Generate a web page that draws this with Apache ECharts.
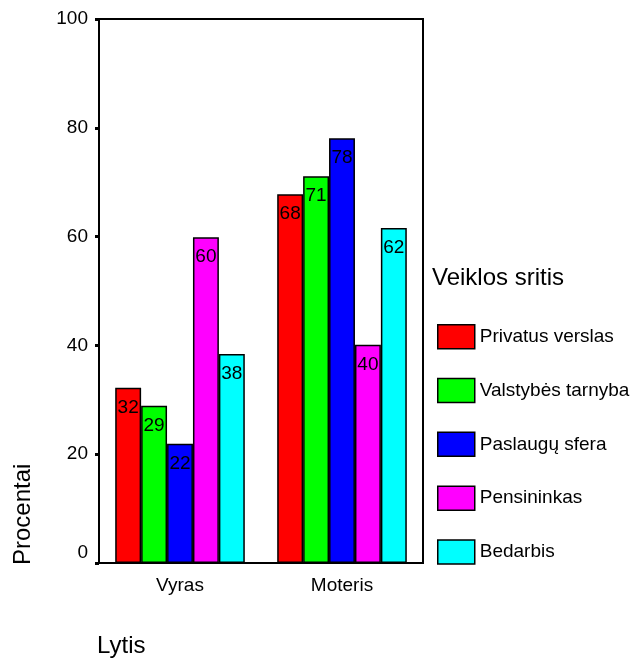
<!DOCTYPE html>
<html>
<head>
<meta charset="utf-8">
<script src="https://cdn.jsdelivr.net/npm/echarts@6/dist/echarts.min.js"></script>
<style>html,body{margin:0;padding:0;background:#fff;}#c{width:639px;height:660px;}</style>
</head>
<body>
<div id="c"></div>
<script>
const categories = ['Vyras', 'Moteris'];
const seriesNames = ['Privatus verslas', 'Valstybės tarnyba', 'Paslaugų sfera', 'Pensininkas', 'Bedarbis'];
const privatusVerslas = [32.2, 67.8];
const valstybesTarnyba = [28.9, 71.1];
const paslauguSfera = [21.9, 78.1];
const pensininkas = [59.9, 40.1];
const bedarbis = [38.4, 61.6];
const yTicks = [0, 20, 40, 60, 80, 100];
const colors = ['#ff0000', '#00ff00', '#0000ff', '#ff00ff', '#00ffff'];
const seriesValues = [privatusVerslas, valstybesTarnyba, paslauguSfera, pensininkas, bedarbis];

const FONT = 'Arial, "Liberation Sans", sans-serif';
const chart = echarts.init(document.getElementById('c'), null, {renderer: 'canvas'});

const series = seriesNames.map((name, i) => ({
  name: name,
  type: 'bar',
  data: seriesValues[i],
  barGap: '0%',
  barCategoryGap: '20%',
  itemStyle: {color: colors[i], borderColor: '#000', borderWidth: 1.5},
  label: {
    show: true, position: 'insideTop', distance: 10,
    color: '#000', fontFamily: FONT, fontSize: 19,
    formatter: p => String(Math.round(p.value))
  },
  emphasis: {disabled: true}
}));

chart.setOption({
  animation: false,
  backgroundColor: '#fff',
  grid: {left: 99, right: 216, top: 19, bottom: 97, show: true, borderColor: '#000', borderWidth: 2, backgroundColor: 'transparent'},
  xAxis: {
    type: 'category', data: categories, boundaryGap: true,
    axisLine: {lineStyle: {color: '#000', width: 2}},
    axisTick: {alignWithLabel: true, length: 4, lineStyle: {color: '#000', width: 3}},
    axisLabel: {color: '#000', fontFamily: FONT, fontSize: 19, margin: 13}
  },
  yAxis: {
    type: 'value', min: yTicks[0], max: yTicks[yTicks.length - 1], interval: 20,
    splitLine: {show: false},
    axisLine: {show: true, lineStyle: {color: '#000', width: 2}},
    axisTick: {show: true, length: 4, lineStyle: {color: '#000', width: 3}},
    axisLabel: {
      color: '#000', fontFamily: FONT, fontSize: 19, margin: 11,
      formatter: v => v === 0 ? '{z|0}' : String(v),
      rich: {z: {fontFamily: FONT, fontSize: 19, color: '#000', padding: [0, 0, 20, 0]}}
    }
  },
  title: {
    text: 'Veiklos sritis', left: 432, top: 266, padding: 0,
    textStyle: {fontFamily: FONT, fontSize: 24, fontWeight: 'normal', color: '#000'}
  },
  legend: {
    orient: 'vertical', left: 437, top: 324, padding: 0,
    itemWidth: 37, itemHeight: 24, itemGap: 28.3, itemTextGap: 2,
    icon: 'rect',
    itemStyle: {borderColor: '#000', borderWidth: 1.5},
    textStyle: {fontFamily: FONT, fontSize: 19, color: '#000'},
    data: seriesNames,
    selectedMode: false
  },
  graphic: [
    {type: 'text', x: 23, y: 565, rotation: Math.PI / 2,
     style: {text: 'Procentai', font: '24px ' + FONT, fill: '#000', textAlign: 'left', textVerticalAlign: 'middle'}},
    {type: 'text', x: 97, y: 646,
     style: {text: 'Lytis', font: '24px ' + FONT, fill: '#000', textAlign: 'left', textVerticalAlign: 'middle'}}
  ],
  series: series
});
</script>
</body>
</html>
